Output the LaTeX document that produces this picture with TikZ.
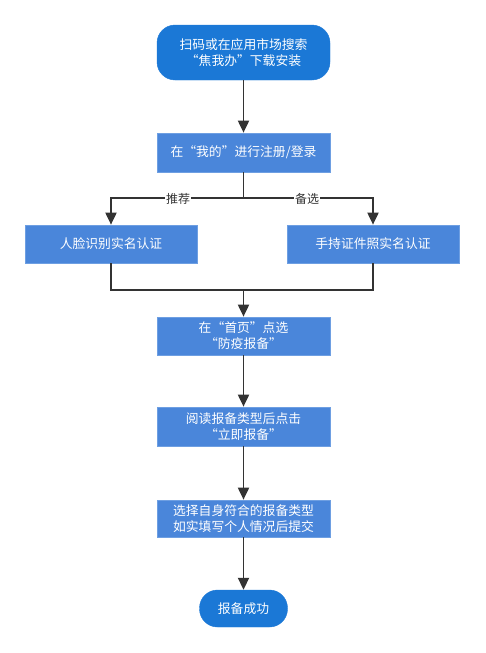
\documentclass[tikz,border=0pt]{standalone}
\usepackage{fontspec}
\setmainfont{Noto Sans CJK SC}
\usetikzlibrary{arrows.meta}
\definecolor{termblue}{HTML}{1B78D6}
\definecolor{stepblue}{HTML}{4A86DA}
\definecolor{stepedge}{HTML}{6E9FE2}
\definecolor{linegray}{HTML}{333333}
\tikzset{
  x=1pt,y=-1pt,
  term/.style={fill=termblue,draw=termblue,rounded corners=18pt,text=white,align=center,font=\fontsize{12.8}{16}\selectfont,inner sep=0pt},
  stepbox/.style={fill=stepblue,draw=stepedge,line width=0.7pt,text=white,align=center,font=\fontsize{12.8}{16}\selectfont,inner sep=0pt},
  conn/.style={draw=linegray,line width=1.9pt,-{Triangle[length=12pt,width=11pt]}},
  plain/.style={draw=linegray,line width=1.9pt},
  lbl/.style={fill=white,text=linegray,font=\fontsize{12}{14}\selectfont,inner sep=1pt}
}
\begin{document}
\begin{tikzpicture}
\useasboundingbox (0,0) rectangle (485,653);
\node[term,minimum width=173pt,minimum height=55pt] (start) at (243.5,52.5) {扫码或在应用市场搜索\\“焦我办”下载安装};
\node[stepbox,minimum width=173pt,minimum height=39pt] (reg) at (243.5,152.5) {在“我的”进行注册/登录};
\node[stepbox,minimum width=172pt,minimum height=38pt] (face) at (111,244) {人脸识别实名认证};
\node[stepbox,minimum width=172pt,minimum height=38pt] (hand) at (373,244) {手持证件照实名认证};
\node[stepbox,minimum width=173pt,minimum height=38pt] (home) at (243.5,336) {在“首页”点选\\“防疫报备”};
\node[stepbox,minimum width=173pt,minimum height=39pt] (read) at (243.5,426.5) {阅读报备类型后点击\\“立即报备”};
\node[stepbox,minimum width=173pt,minimum height=37pt] (fill) at (243.5,518.5) {选择自身符合的报备类型\\如实填写个人情况后提交};
\node[term,minimum width=88pt,minimum height=37pt] (done) at (243.5,608.5) {报备成功};
\coordinate (split) at (243.5,198);
\coordinate (merge) at (243.5,290);
\draw[conn] (start) -- (reg);
\draw[plain] (reg) -- (split);
\draw[conn] (split) -| (face);
\draw[conn] (split) -| (hand);
\node[lbl] (l1) at (178,199) {推荐};
\node[lbl] (l2) at (307,199) {备选};
\draw[plain] (face) |- (merge);
\draw[plain] (hand) |- (merge);
\draw[conn] (merge) -- (home);
\draw[conn] (home) -- (read);
\draw[conn] (read) -- (fill);
\draw[conn] (fill) -- (done);
\end{tikzpicture}
\end{document}
